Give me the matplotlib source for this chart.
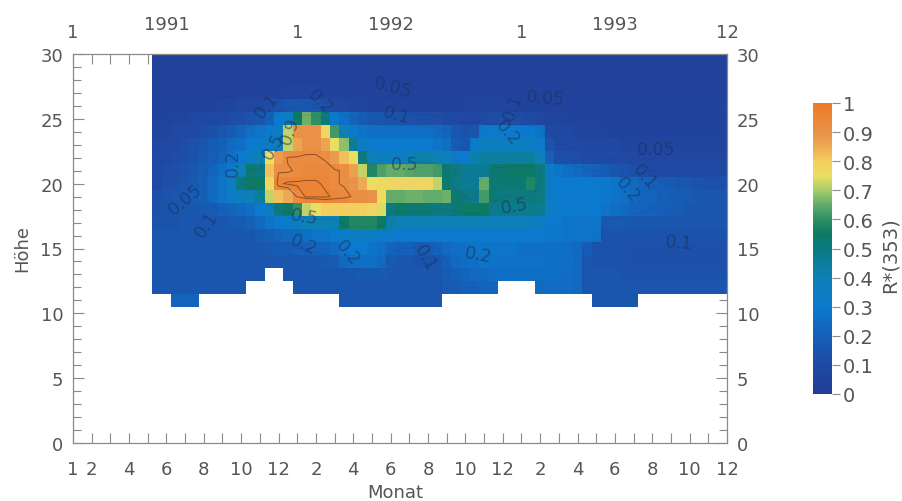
import numpy as np
import matplotlib
matplotlib.use('Agg')
import matplotlib.pyplot as plt
from matplotlib.colors import LinearSegmentedColormap

N = float('nan')

# R*(353) in percent, half-month columns, one list per height (km)
h30 = [4,4,4,4,4,4,4,4,4,4, 4,4,4,4,4,4,4,4,4,4, 4,4,4,4,4,4,4,4,4,4, 4,4,4,4,4,4,4,4,4,4, 4,4,4,4,4,4,4,4,4,4, 4,4,4,4,4,4,4,4,4,4,4,4]
h29 = [4,4,4,4,4,4,4,4,4,4, 4,4,4,4,4,4,4,4,4,4, 4,4,4,4,4,4,4,4,4,4, 4,4,4,4,4,4,4,4,4,4, 4,4,4,4,4,4,4,4,4,4, 4,4,4,4,4,4,4,4,4,4,4,4]
h28 = [4,4,4,4,4,4,4,4,4,4, 4,4,4,5,5,5,5,5,5,4, 4,4,4,4,4,4,4,4,4,4, 4,4,4,4,4,4,4,4,4,4, 4,4,4,4,4,4,4,4,4,4, 4,4,4,4,4,4,4,4,4,4,4,4]
h27 = [4,4,4,4,4,4,4,4,4,5, 5,5,6,6,7,7,7,7,6,6, 5,5,5,5,5,4,4,4,4,4, 4,4,5,5,5,5,5,5,5,5, 5,5,5,4,4,4,4,4,4,4, 4,4,4,4,4,4,4,4,4,4,4,4]
h26 = [5,5,5,6,6,6,6,7,7,8, 8,9,11,13,15,16,16,15,12,10, 8,7,7,6,6,6,6,6,6,6, 6,6,6,6,7,7,7,7,7,6, 6,6,5,5,5,5,5,5,5,5, 5,5,5,5,5,5,5,5,5,5,5,5]
h25 = [6,6,7,7,8,8,9,10,11,12, 14,16,20,30,34,55,66,60,50,30, 26,22,18,16,15,14,14,13,12,12, 11,10,9,8,8,9,11,12,12,11, 10,8,7,7,6,6,6,6,6,5, 5,5,5,5,5,5,5,5,5,5,5,5]
h24 = [7,7,8,9,10,11,13,15,18,22, 26,28,30,34,72,91,91,91,78,62, 40,32,28,26,26,26,26,26,26,26, 24,22,16,14,16,30,32,32,30,30, 30,28,10,8,8,7,7,7,6,6, 6,6,6,6,6,6,6,6,6,6,6,6]
h23 = [8,9,10,11,13,16,18,20,24,26, 30,32,34,36,72,86,91,91,86,75, 68,45,34,32,30,30,30,30,30,30, 28,26,18,16,32,36,36,36,36,36, 34,32,14,10,10,9,8,8,8,8, 7,7,7,7,7,7,7,7,7,7,7,7]
h22 = [9,10,11,12,14,17,19,22,26,30, 34,40,76,88,93,93,93,93,92,88, 82,75,50,40,36,36,36,38,42,42, 40,38,32,30,42,44,44,44,44,44, 44,40,20,12,12,11,10,10,10,9, 9,8,8,8,8,8,8,8,8,8,8,8]
h21 = [10,11,12,14,16,19,22,26,30,40, 52,50,82,92,92,93,94,94,94,93, 92,87,72,58,63,65,65,64,63,63, 62,52,50,46,46,46,52,52,54,54, 54,50,34,28,26,24,22,20,18,16, 14,12,11,10,10,10,10,10,10,10,10,10]
h20 = [10,12,13,15,17,20,24,28,35,50, 55,55,78,95,96,96,96,96,95,93, 92,90,85,76,77,78,78,78,78,78, 72,52,48,46,46,65,52,52,52,52, 58,50,35,30,30,30,30,30,29,28, 26,24,22,20,18,17,16,15,14,13,13,13]
h19 = [12,14,15,16,18,20,24,28,34,36, 40,45,72,82,85,93,96,96,96,95, 94,92,92,91,76,65,65,66,66,65, 65,66,52,50,48,62,52,50,50,50, 50,50,34,30,30,30,30,30,29,28, 26,24,22,21,20,19,18,17,16,15,15,15]
h18 = [13,14,15,15,16,17,18,20,22,24, 26,30,35,50,55,60,72,76,80,80, 80,80,80,78,74,50,54,52,52,52, 50,50,52,55,55,55,48,48,48,48, 48,46,34,32,30,30,30,30,28,26, 24,22,21,20,19,18,17,16,16,15,15,15]
h17 = [14,14,14,15,15,15,15,16,17,18, 20,24,28,30,32,36,38,40,40,40, 55,58,58,58,55,42,40,40,40,40, 40,40,40,40,40,40,38,38,38,38, 36,34,30,30,28,28,28,28,17,17, 17,16,16,16,15,15,15,15,15,15,15,15]
h16 = [15,15,15,15,15,15,15,15,15,15, 15,18,20,22,24,24,26,28,28,30, 32,34,36,34,32,32,30,30,30,30, 30,30,30,30,30,30,30,30,30,30, 30,30,29,29,28,28,28,28,14,14, 14,14,14,14,14,14,14,14,14,14,14,14]
h15 = [15,15,15,15,15,15,15,15,15,15, 16,16,17,18,18,20,20,22,22,24, 28,30,30,28,26,22,20,20,18,18, 20,24,26,26,28,28,28,28,28,26, 26,26,26,26,25,24,18,14,14,14, 14,13,13,13,13,13,13,13,13,13,13,13]
h14 = [15,15,15,15,15,15,15,15,15,15, 15,15,15,15,15,15,16,16,17,18, 24,26,26,26,24,17,16,15,14,14, 15,20,24,25,26,27,27,27,27,27, 27,27,26,26,26,24,16,14,14,14, 14,13,13,13,13,13,13,13,13,13,13,13]
h13 = [15,15,15,15,15,15,15,15,15,15, 15,15,N,N,15,15,15,15,15,16, 16,16,17,17,17,15,15,15,15,15, 15,18,20,22,24,24,25,26,26,26, 26,26,26,26,25,24,16,15,15,15, 14,14,14,14,14,14,14,14,14,14,14,14]
h12 = [16,16,16,16,16,16,16,16,16,16, N,N,N,N,N,16,16,16,16,16, 15,15,15,15,15,15,15,15,15,15, 15,17,18,20,20,22,22,N,N,N, N,24,25,25,25,24,16,15,15,15, 15,15,15,15,15,15,15,15,15,15,15,15]
h11 = [N,N,22,22,22,N,N,N,N,N, N,N,N,N,N,N,N,N,N,N, 15,15,15,15,15,15,15,15,15,15, 15,N,N,N,N,N,N,N,N,N, N,N,N,N,N,N,N,15,15,15, 15,15,N,N,N,N,N,N,N,N,N,N]

heights = [30, 29, 28, 27, 26, 25, 24, 23, 22, 21, 20, 19, 18, 17, 16, 15, 14, 13, 12, 11]
grid = np.array([h30, h29, h28, h27, h26, h25, h24, h23, h22, h21, h20, h19,
                 h18, h17, h16, h15, h14, h13, h12, h11]) / 100.0

months = 5.5 + 0.5 * np.arange(grid.shape[1])
x_ticks = [1, 2, 4, 6, 8, 10, 12, 14, 16, 18, 20, 22, 24, 26, 28, 30, 32, 34, 36]
x_labels = ['1', '2', '4', '6', '8', '10', '12', '2', '4', '6', '8', '10', '12',
            '2', '4', '6', '8', '10', '12']
y_ticks = [0, 5, 10, 15, 20, 25, 30]
cbar_ticks = [0, 0.1, 0.2, 0.3, 0.4, 0.5, 0.6, 0.7, 0.8, 0.9, 1]
cbar_labels = ['0', '0.1', '0.2', '0.3', '0.4', '0.5', '0.6', '0.7', '0.8', '0.9', '1']
top_marks = [(1, '1', 33), (6, '1991', 25), (13, '1', 33), (18, '1992', 25),
             (25, '1', 33), (30, '1993', 25), (36, '12', 33)]

# contour labels: text, pixel x, pixel y, rotation
contour_labels = [('0.1', 267, 106, 50), ('0.2', 320, 102, -45), ('0.05', 393, 88, -15),
                  ('0.1', 396, 116, -15), ('0.5', 405, 165, 0), ('0.9', 290, 131, 70),
                  ('0.5', 273, 147, 60), ('0.2', 233, 163, 90), ('0.05', 185, 200, 40),
                  ('0.1', 207, 225, 55), ('0.5', 304, 217, -10), ('0.2', 348, 253, -50),
                  ('0.2', 303, 245, -25), ('0.1', 425, 258, -60), ('0.2', 478, 255, -10),
                  ('0.5', 515, 207, 10), ('0.2', 628, 190, -50), ('0.1', 645, 177, -50),
                  ('0.05', 656, 150, 0), ('0.1', 679, 243, -5), ('0.05', 545, 99, -5),
                  ('0.1', 513, 107, 70), ('0.2', 508, 133, -50)]

cmap = LinearSegmentedColormap.from_list('rstar', [
    (0.0, '#223c96'), (0.1, '#1f4aa4'), (0.2, '#1560b8'), (0.3, '#0b7acd'),
    (0.4, '#0d80b5'), (0.5, '#0c7a80'), (0.55, '#0d7a62'), (0.6, '#2e8f64'),
    (0.65, '#62aa6a'), (0.7, '#a5cc6c'), (0.75, '#e8df62'), (0.8, '#f4cf60'),
    (0.85, '#eeaa52'), (0.9, '#e8934a'), (1.0, '#ee7a28')])

W, H = 903, 502
grey = '#555555'
plt.rcParams['font.family'] = 'DejaVu Sans'
plt.rcParams['font.size'] = 13

fig = plt.figure(figsize=(W / 100, H / 100), dpi=100)
ax = fig.add_axes([73 / W, 1 - 444 / H, 654 / W, 389 / H])
ax.set_xlim(1, 36)
ax.set_ylim(0, 30)
ax.set_axisbelow(True)

x_edges = np.append(months - 0.25, months[-1] + 0.25)
y_edges = np.append(np.array(heights) + 0.5, heights[-1] - 0.5)
masked = np.ma.masked_invalid(grid)
mesh = ax.pcolormesh(x_edges, y_edges, masked, cmap=cmap, vmin=0, vmax=1, linewidth=0)

ax.contour(months, heights, masked, levels=[0.05, 0.1, 0.2, 0.5], colors='#1c2f5a',
           linewidths=0.5, alpha=0.18)
ax.contour(months, heights, masked, levels=[0.925, 0.955], colors='#7a4020', linewidths=0.7,
           alpha=0.8)

for spine in ax.spines.values():
    spine.set_color('#8a8a8a')
    spine.set_linewidth(0.9)

ax.set_xticks(np.arange(1, 37))
ax.set_xticklabels([x_labels[x_ticks.index(m)] if m in x_ticks else '' for m in range(1, 37)])
ax.set_yticks(y_ticks)
ax.set_yticks(np.arange(0, 31), minor=True)
ax.tick_params(axis='x', which='major', direction='in', length=7, width=0.8, top=True,
               color='#8a8a8a', labelcolor=grey, pad=12)
ax.tick_params(axis='y', which='major', direction='in', length=8, width=0.8, right=True,
               labelright=True, color='#8a8a8a', labelcolor=grey, pad=7)
ax.tick_params(axis='y', which='minor', direction='in', length=6, width=0.8, right=True,
               color='#8a8a8a')

for month, label, py in top_marks:
    ax.text(month, 1 - (py - 55) / 389, label, transform=ax.get_xaxis_transform(),
            ha='center', va='center', color=grey)

for label, px, py, rot in contour_labels:
    fig.text(px / W, 1 - py / H, label, ha='center', va='center', rotation=rot,
             fontsize=12.5, color='#1c2f5a', alpha=0.55)

fig.text(22 / W, 1 - 249 / H, 'Höhe', rotation=90, ha='center', va='center', color=grey,
         fontsize=13)
fig.text(395 / W, 1 - 493 / H, 'Monat', ha='center', va='center', color=grey, fontsize=13)

cax = fig.add_axes([813 / W, 1 - 395 / H, 19 / W, 291 / H])
cbar = fig.colorbar(mesh, cax=cax, ticks=cbar_ticks)
cbar.ax.set_yticklabels(cbar_labels, fontsize=14)
cbar.ax.tick_params(length=6, width=0.8, color='#8a8a8a', labelcolor=grey, pad=2)
cbar.outline.set_visible(False)
fig.text(890 / W, 1 - 255 / H, 'R*(353)', rotation=90, ha='center', va='center', color=grey,
         fontsize=14)

fig.savefig('out.png', dpi=100)
